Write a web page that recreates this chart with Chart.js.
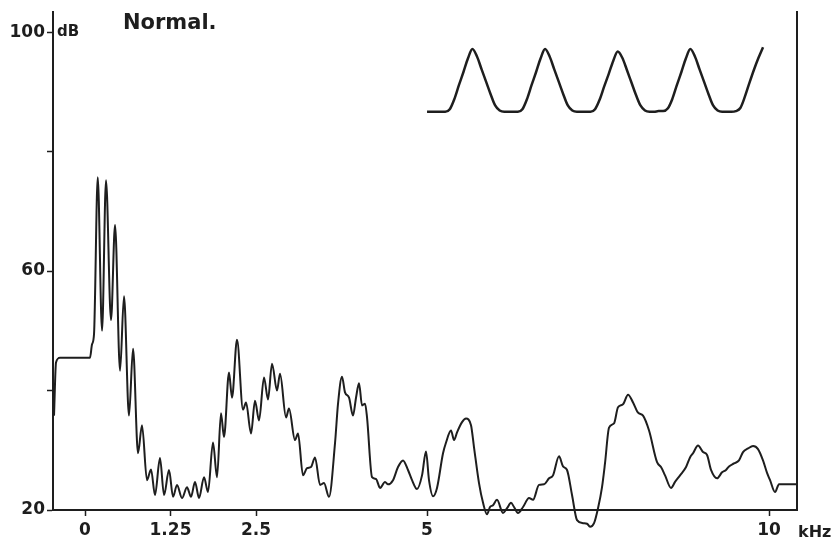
<!DOCTYPE html>
<html>
<head>
<meta charset="utf-8">
<title>Normal.</title>
<script src="https://cdn.jsdelivr.net/npm/chart.js@4/dist/chart.umd.min.js"></script>
<style>
  html, body { margin: 0; padding: 0; background: #fff; }
  canvas { display: block; }
</style>
</head>
<body>
<canvas id="spectrum" width="836" height="543"></canvas>
<script>
// ========== Data ==========
const freqKHz = [
  -0.453, -0.424, -0.365, 0.073, 0.102, 0.132, 0.186, 0.249, 0.307, 0.380,
  0.439, 0.512, 0.570, 0.643, 0.702, 0.775, 0.833, 0.906, 0.965, 1.023,
  1.096, 1.155, 1.228, 1.287, 1.345, 1.418, 1.491, 1.550, 1.608, 1.667,
  1.740, 1.798, 1.871, 1.930, 1.988, 2.032, 2.105, 2.149, 2.222, 2.310,
  2.354, 2.427, 2.485, 2.544, 2.617, 2.675, 2.734, 2.807, 2.851, 2.939,
  2.982, 3.070, 3.114, 3.187, 3.246, 3.304, 3.363, 3.436, 3.494, 3.567,
  3.655, 3.699, 3.757, 3.801, 3.860, 3.918, 3.962, 4.006, 4.050, 4.094,
  4.123, 4.196, 4.254, 4.313, 4.386, 4.430, 4.503, 4.576, 4.649, 4.722,
  4.781, 4.854, 4.927, 4.985, 5.029, 5.088, 5.146, 5.234, 5.278, 5.351,
  5.395, 5.439, 5.512, 5.570, 5.643, 5.687, 5.760, 5.819, 5.877, 5.921,
  5.965, 6.023, 6.111, 6.170, 6.228, 6.272, 6.330, 6.404, 6.491, 6.550,
  6.637, 6.711, 6.784, 6.842, 6.930, 6.988, 7.047, 7.120, 7.193, 7.281,
  7.339, 7.383, 7.442, 7.500, 7.558, 7.602, 7.661, 7.734, 7.792, 7.865,
  7.939, 8.012, 8.085, 8.158, 8.246, 8.363, 8.421, 8.480, 8.567, 8.626,
  8.699, 8.787, 8.845, 8.889, 8.962, 9.035, 9.094, 9.152, 9.240, 9.313,
  9.371, 9.415, 9.488, 9.561, 9.620, 9.693, 9.766, 9.839, 9.912, 9.971,
  10.015, 10.088, 10.146, 10.205, 10.409
];
const levelDb = [
  35.8, 44.7, 45.5, 45.5, 47.7, 49.5, 75.7, 50.0, 75.2, 51.8,
  67.7, 43.3, 55.8, 35.8, 47.0, 29.5, 34.2, 25.0, 26.8, 22.5,
  28.7, 22.5, 26.7, 22.2, 24.2, 22.0, 23.8, 22.2, 24.7, 22.0,
  25.5, 23.0, 31.3, 25.5, 36.2, 32.2, 43.0, 38.8, 48.5, 36.8,
  38.0, 32.8, 38.3, 35.0, 42.2, 38.5, 44.5, 40.0, 42.8, 35.5,
  37.0, 31.7, 32.8, 25.8, 27.0, 27.2, 28.8, 24.2, 24.5, 22.2,
  31.2, 37.8, 42.3, 39.7, 38.8, 35.8, 38.8, 41.2, 37.5, 37.8,
  35.5, 25.5, 25.2, 23.7, 24.7, 24.3, 25.0, 27.2, 28.3, 26.7,
  25.0, 23.5, 25.8, 29.8, 25.0, 22.3, 23.7, 29.5, 31.3, 33.3,
  31.7, 33.0, 34.7, 35.3, 34.2, 30.5, 24.5, 21.2, 19.3, 20.5,
  20.8, 21.7, 19.5, 20.3, 21.2, 20.5, 19.5, 20.5, 22.0, 21.7,
  24.2, 24.3, 25.3, 25.8, 29.0, 27.3, 26.7, 22.5, 18.3, 17.8,
  17.7, 17.2, 17.8, 20.3, 23.8, 27.8, 33.8, 34.5, 37.2, 37.7,
  39.3, 38.0, 36.3, 35.8, 33.3, 28.0, 27.2, 25.8, 23.7, 24.7,
  25.8, 27.2, 28.8, 29.5, 30.8, 29.7, 29.2, 26.7, 25.3, 26.3,
  26.7, 27.3, 27.8, 28.3, 29.7, 30.3, 30.7, 30.2, 28.3, 26.2,
  25.0, 23.0, 24.3, 24.3, 24.3
];

// inset waveform (time in ms, relative amplitude)
const waveTimeMs = [
  0, 0.5, 1, 1.5, 2, 2.5, 3, 3.5, 4, 4.5, 5, 5.5, 6, 6.5, 7, 7.5, 8, 8.5,
  9, 9.5, 10, 10.5, 11, 11.5, 12, 12.5, 13, 13.5, 14, 14.5, 15, 15.5, 16, 16.5,
  17, 17.5, 18, 18.5, 19, 19.5, 20, 20.5, 21, 21.5, 22, 22.5, 23, 23.5, 24, 24.5,
  25, 25.5, 26, 26.5, 27, 27.5, 28, 28.5, 29, 29.5, 30, 30.5, 31, 31.5, 32, 32.5,
  33, 33.5, 34, 34.5, 35, 35.5, 36, 36.5, 37
];
const waveLevel = [
  0, 0, 0, 0, 0, 0.04, 0.2, 0.42, 0.63, 0.85, 1.0, 0.88, 0.68, 0.48, 0.28, 0.1, 0.02, 0,
  0, 0, 0, 0.04, 0.2, 0.42, 0.63, 0.85, 1.0, 0.88, 0.68, 0.48, 0.28, 0.1, 0.02, 0,
  0, 0, 0, 0.04, 0.19, 0.4, 0.6, 0.81, 0.96, 0.86, 0.67, 0.47, 0.27, 0.1, 0.02, 0,
  0, 0.01, 0.01, 0.05, 0.2, 0.42, 0.63, 0.85, 1.0, 0.88, 0.68, 0.48, 0.28, 0.1, 0.02, 0,
  0, 0, 0.01, 0.06, 0.24, 0.46, 0.67, 0.86, 1.03
];

const xTicks = [0, 1.25, 2.5, 5, 10];
const yTicks = [20, 40, 60, 80, 100];
const yLabelled = [20, 60, 100];

// ========== Style ==========
const ink = '#1e1e1e';
const labelFont = { family: 'DejaVu Sans', size: 17, weight: 'bold' };

// ========== Text plugin ==========
const textLabels = {
  id: 'textLabels',
  afterDraw(chart) {
    const { ctx, scales } = chart;
    const y100 = scales.y.getPixelForValue(100);
    const left = chart.chartArea.left;
    ctx.save();
    ctx.fillStyle = ink;
    ctx.textBaseline = 'middle';
    ctx.textAlign = 'left';
    ctx.font = 'bold 15px "DejaVu Sans"';
    ctx.fillText('dB', left + 4, y100);
    ctx.font = 'bold 21px "DejaVu Sans"';
    ctx.fillText('Normal.', left + 70, y100 - 9);
    ctx.font = 'bold 16px "DejaVu Sans"';
    ctx.fillText('kHz', chart.chartArea.right + 1, chart.chartArea.bottom + 23);
    ctx.restore();
  }
};

// ========== Chart ==========
new Chart(document.getElementById('spectrum'), {
  type: 'line',
  data: {
    datasets: [
      {
        label: 'spectrum',
        data: freqKHz.map((f, i) => ({ x: f, y: levelDb[i] })),
        borderColor: ink,
        borderWidth: 2,
        pointRadius: 0,
        cubicInterpolationMode: 'monotone',
        clip: false,
        xAxisID: 'x',
        yAxisID: 'y'
      },
      {
        label: 'waveform',
        data: waveTimeMs.map((t, i) => ({ x: t, y: waveLevel[i] })),
        borderColor: ink,
        borderWidth: 2.5,
        pointRadius: 0,
        cubicInterpolationMode: 'monotone',
        xAxisID: 'xw',
        yAxisID: 'yw'
      }
    ]
  },
  options: {
    responsive: false,
    animation: false,
    layout: { padding: { top: 10, left: 0, right: 0, bottom: 0 } },
    plugins: { legend: { display: false }, tooltip: { enabled: false } },
    scales: {
      x: {
        type: 'linear',
        min: -0.468,
        max: 10.409,
        afterBuildTicks: s => { s.ticks = xTicks.map(v => ({ value: v })); },
        afterFit: s => { s.height = 33; },
        ticks: { color: ink, font: labelFont, padding: 4, maxRotation: 0, callback: v => String(v) },
        grid: { drawOnChartArea: false, color: ink, tickLength: 6, tickWidth: 1.5 },
        border: { color: ink, width: 2 }
      },
      y: {
        type: 'linear',
        min: 20,
        max: 103.333,
        afterBuildTicks: s => { s.ticks = yTicks.map(v => ({ value: v })); },
        afterFit: s => { s.width = 53; },
        ticks: { color: ink, font: labelFont, padding: 2, callback: v => yLabelled.includes(v) ? String(v) : '' },
        grid: { drawOnChartArea: false, color: ink, tickLength: 6, tickWidth: 1.5 },
        border: { color: ink, width: 2 }
      },
      yr: {
        type: 'linear',
        position: 'right',
        min: 20,
        max: 103.333,
        afterFit: s => { s.width = 39; },
        ticks: { display: false },
        grid: { display: false },
        border: { color: ink, width: 2 }
      },
      xw: { type: 'linear', display: false, min: -41.19, max: 40.74 },
      yw: { type: 'linear', display: false, min: -6.349, max: 1.587 }
    }
  },
  plugins: [textLabels]
});
</script>
</body>
</html>
